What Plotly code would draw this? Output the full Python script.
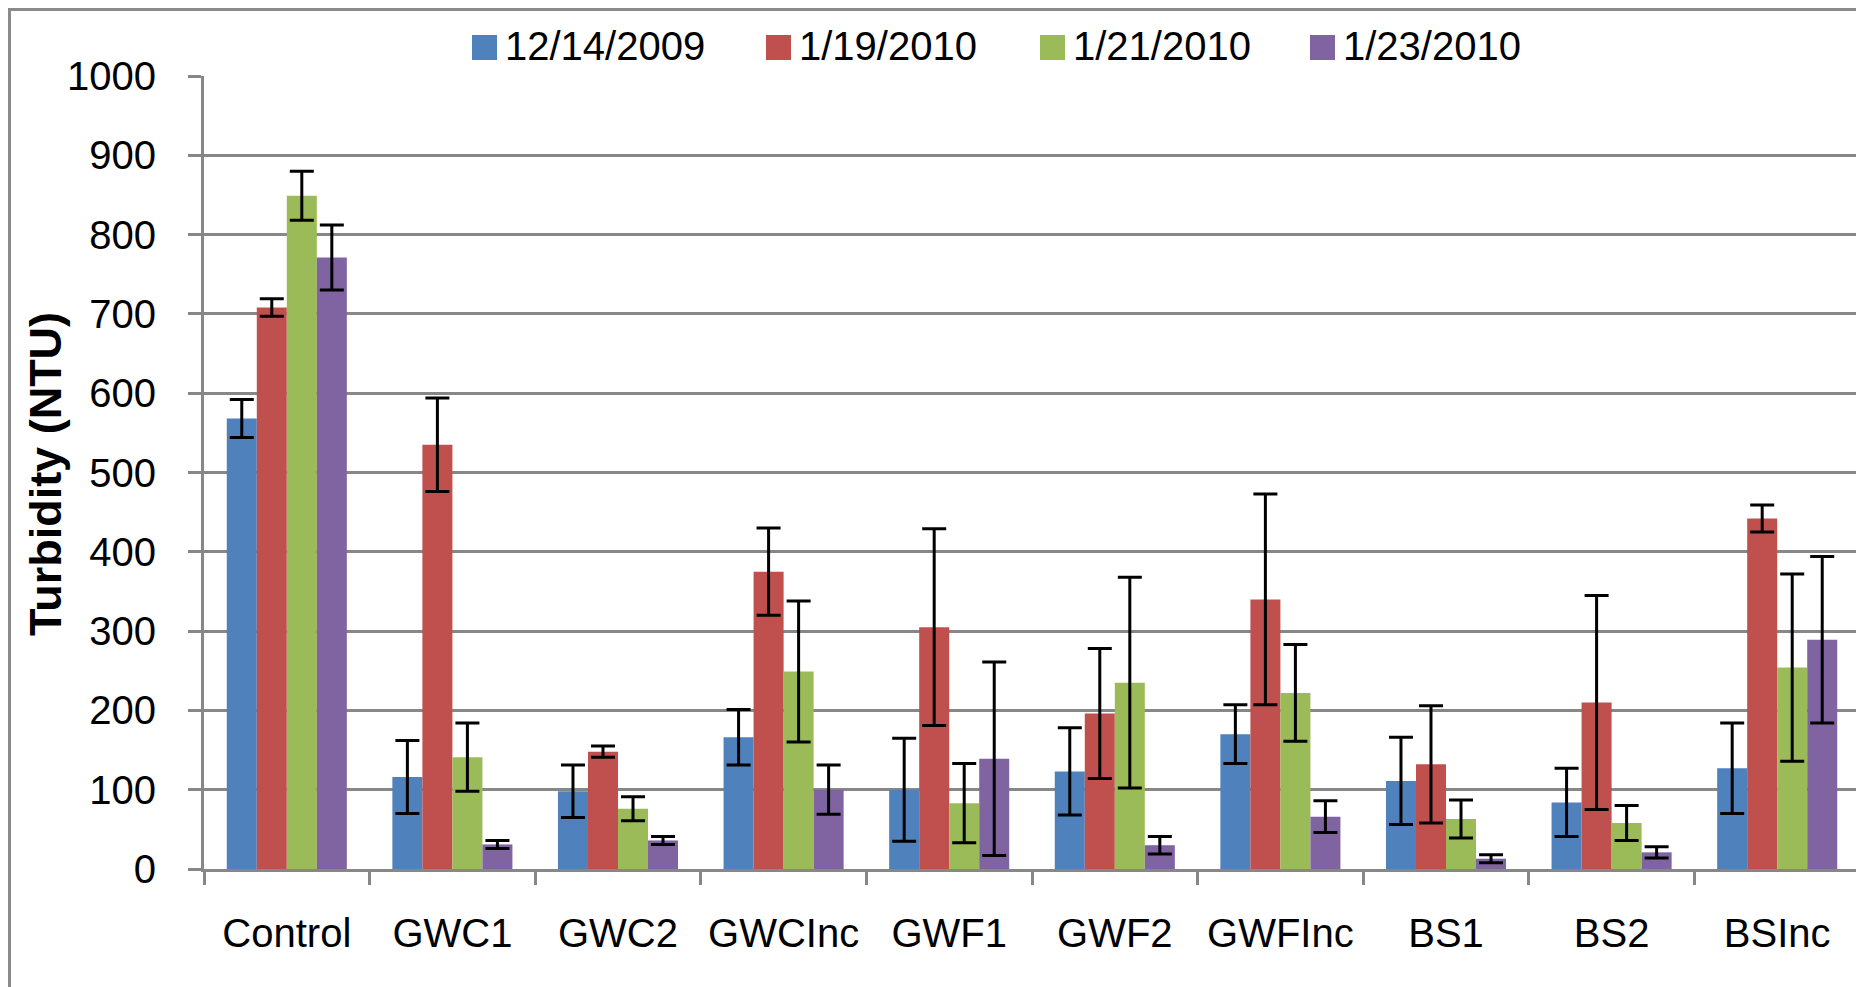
import plotly.graph_objects as go

categories = ["Control", "GWC1", "GWC2", "GWCInc", "GWF1", "GWF2", "GWFInc", "BS1", "BS2", "BSInc"]
series_names = ["12/14/2009", "1/19/2010", "1/21/2010", "1/23/2010"]
colors = ["#4F81BD", "#C0504D", "#9BBB59", "#8064A2"]

vals_1214 = [568, 116, 98, 166, 100, 123, 170, 111, 84, 127]
err_1214 = [24, 46, 33, 35, 65, 55, 37, 55, 43, 57]

vals_0119 = [708, 535, 148, 375, 305, 196, 340, 132, 210, 442]
err_0119 = [11, 59, 7, 55, 124, 82, 133, 74, 135, 17]

vals_0121 = [849, 141, 76, 249, 83, 235, 222, 63, 58, 254]
err_0121 = [31, 43, 15, 89, 50, 133, 61, 24, 22, 118]

vals_0123 = [771, 31, 36, 100, 139, 30, 66, 13, 21, 289]
err_0123 = [41, 5, 5, 31, 122, 11, 20, 5, 7, 105]

y_ticks = [0, 100, 200, 300, 400, 500, 600, 700, 800, 900, 1000]
y_title = "Turbidity (NTU)"

values = [vals_1214, vals_0119, vals_0121, vals_0123]
errors = [err_1214, err_0119, err_0121, err_0123]

# page body margin offsets the figure by 8px
OFF = 8
W, H = 1856, 979
L, R, T, B = 196, 4, 68, 118
PW, PH = W - L - R, H - T - B

def px(x):
    return (x - OFF - L) / PW

def py(y):
    return (H - B - (y - OFF)) / PH

FONT = "Liberation Sans, Arial, sans-serif"
FS = 40
GRID = "#878787"

fig = go.Figure()
for name, col, v, e in zip(series_names, colors, values, errors):
    fig.add_trace(go.Bar(
        name=name, x=categories, y=v,
        marker=dict(color=col, line=dict(width=0)),
        error_y=dict(type="data", array=e, visible=True, color="black", thickness=3, width=12),
        showlegend=False,
    ))

shapes = []
annotations = []
# outer chart border (left and top visible, rest cropped)
shapes.append(dict(type="rect", xref="paper", yref="paper",
                   x0=px(OFF + 1.5), x1=px(1890), y0=py(1010), y1=py(OFF + 1.5),
                   line=dict(color="#8a8a8a", width=3), fillcolor="rgba(0,0,0,0)", layer="below"))

# manual legend
legend_x = [472, 766, 1040, 1310]
for name, col, lx in zip(series_names, colors, legend_x):
    shapes.append(dict(type="rect", xref="paper", yref="paper",
                       x0=px(lx), x1=px(lx + 25), y0=py(60), y1=py(35),
                       line=dict(width=0), fillcolor=col))
    annotations.append(dict(text=name, xref="paper", yref="paper",
                            x=px(lx + 31), y=py(46), xanchor="left", yanchor="middle",
                            showarrow=False, font=dict(family=FONT, size=FS, color="black")))

# y axis title
annotations.append(dict(text="<b>" + y_title + "</b>", xref="paper", yref="paper",
                        x=px(46), y=py(474), xanchor="center", yanchor="middle", textangle=-90,
                        showarrow=False, font=dict(family=FONT, size=45, color="black")))

fig.update_layout(
    width=W, height=H,
    margin=dict(l=L, r=R, t=T, b=B, autoexpand=False),
    paper_bgcolor="white", plot_bgcolor="white",
    barmode="group", bargap=0.275, bargroupgap=0,
    font=dict(family=FONT, size=FS, color="black"),
    shapes=shapes, annotations=annotations,
    xaxis=dict(
        type="category", showgrid=False, showline=True, linecolor=GRID, linewidth=3,
        ticks="outside", tickson="boundaries", ticklen=13, tickwidth=3, tickcolor=GRID,
        ticklabelstandoff=27, tickangle=0, tickfont=dict(family=FONT, size=FS, color="black"),
        automargin=False,
    ),
    yaxis=dict(
        range=[0, 1000], tickvals=y_ticks, showgrid=True, gridcolor=GRID, gridwidth=3,
        showline=True, linecolor=GRID, linewidth=3, zeroline=False,
        ticks="outside", ticklen=13, tickwidth=3, tickcolor=GRID,
        ticklabelstandoff=24, tickfont=dict(family=FONT, size=FS, color="black"),
        automargin=False,
    ),
)

fig.write_html("out.html")
